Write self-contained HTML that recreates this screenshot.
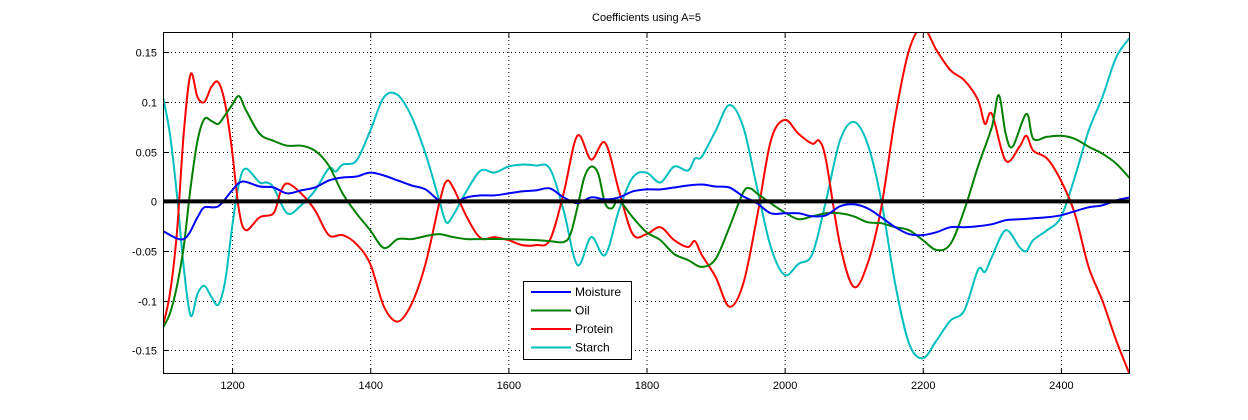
<!DOCTYPE html>
<html><head><meta charset="utf-8"><style>
body{margin:0;background:#fff;}
svg{display:block;font-family:"Liberation Sans",sans-serif;}
</style></head><body>
<svg id="chart" width="1248" height="420" viewBox="0 0 1248 420" xmlns="http://www.w3.org/2000/svg"></svg>
<script>
const xTicks=[1200,1400,1600,1800,2000,2200,2400];
const yTicks=[-0.15,-0.1,-0.05,0,0.05,0.1,0.15];
const yTickLabels=["-0.15","-0.1","-0.05","0","0.05","0.1","0.15"];
const seriesNames=["Moisture","Oil","Protein","Starch"];
const moistureX=[1100,1130,1150,1160,1180,1200,1215,1240,1260,1280,1300,1320,1340,1360,1380,1400,1420,1440,1460,1480,1500,1520,1540,1560,1580,1600,1620,1640,1660,1680,1700,1720,1740,1760,1780,1800,1820,1840,1860,1880,1900,1920,1940,1960,1980,2000,2020,2040,2060,2080,2100,2120,2140,2160,2180,2200,2220,2240,2260,2280,2300,2320,2340,2360,2380,2400,2420,2440,2460,2480,2500];
const moistureY=[-0.030,-0.038,-0.016,-0.006,-0.005,0.011,0.020,0.015,0.014,0.008,0.011,0.014,0.021,0.024,0.025,0.029,0.026,0.021,0.016,0.012,0.001,-0.001,0.004,0.006,0.006,0.008,0.010,0.011,0.013,0.004,-0.002,0.004,0.002,0.004,0.010,0.012,0.012,0.014,0.016,0.017,0.015,0.014,0.005,-0.002,-0.012,-0.012,-0.012,-0.015,-0.014,-0.005,-0.003,-0.007,-0.016,-0.026,-0.033,-0.034,-0.031,-0.026,-0.026,-0.025,-0.023,-0.019,-0.018,-0.017,-0.016,-0.014,-0.010,-0.006,-0.004,0.001,0.004];
const oilX=[1100,1110,1120,1130,1140,1150,1160,1170,1180,1190,1200,1210,1220,1240,1260,1280,1300,1320,1340,1360,1380,1400,1420,1440,1460,1480,1500,1520,1540,1560,1600,1640,1660,1680,1690,1700,1710,1720,1730,1740,1750,1760,1780,1800,1820,1840,1860,1880,1900,1920,1940,1950,1960,1980,2000,2020,2040,2060,2080,2100,2120,2140,2160,2180,2200,2220,2240,2260,2280,2300,2310,2320,2330,2350,2360,2380,2400,2420,2440,2460,2480,2500];
const oilY=[-0.127,-0.113,-0.086,-0.046,0.014,0.061,0.083,0.081,0.078,0.087,0.097,0.106,0.092,0.068,0.061,0.056,0.056,0.051,0.036,0.008,-0.012,-0.029,-0.047,-0.038,-0.038,-0.035,-0.033,-0.036,-0.038,-0.038,-0.038,-0.039,-0.040,-0.041,-0.033,-0.006,0.024,0.035,0.028,-0.002,-0.007,0.001,-0.016,-0.031,-0.039,-0.053,-0.059,-0.066,-0.058,-0.026,0.009,0.013,0.008,-0.002,-0.011,-0.018,-0.015,-0.012,-0.012,-0.015,-0.021,-0.022,-0.026,-0.029,-0.039,-0.049,-0.043,-0.009,0.035,0.075,0.107,0.068,0.055,0.088,0.063,0.065,0.066,0.063,0.055,0.048,0.038,0.023];
const proteinX=[1100,1110,1120,1130,1140,1150,1160,1170,1180,1190,1200,1210,1220,1240,1260,1270,1280,1300,1320,1340,1360,1380,1400,1420,1440,1460,1480,1500,1510,1520,1540,1560,1580,1600,1620,1640,1660,1680,1700,1720,1740,1760,1780,1800,1820,1840,1860,1870,1880,1900,1920,1940,1960,1980,2000,2020,2040,2050,2060,2080,2100,2120,2140,2160,2180,2200,2220,2240,2260,2280,2290,2300,2320,2340,2350,2360,2380,2400,2420,2440,2460,2480,2500];
const proteinY=[-0.125,-0.093,-0.033,0.068,0.128,0.105,0.100,0.115,0.120,0.098,0.051,-0.009,-0.029,-0.016,-0.012,0.009,0.018,0.008,-0.009,-0.034,-0.034,-0.043,-0.063,-0.106,-0.121,-0.103,-0.063,-0.002,0.020,0.014,-0.016,-0.037,-0.036,-0.039,-0.044,-0.044,-0.039,0.008,0.066,0.042,0.059,0.011,-0.033,-0.033,-0.026,-0.039,-0.046,-0.040,-0.054,-0.076,-0.106,-0.083,-0.016,0.061,0.082,0.068,0.058,0.061,0.041,-0.043,-0.086,-0.063,-0.006,0.085,0.152,0.175,0.152,0.132,0.122,0.102,0.078,0.088,0.041,0.055,0.066,0.051,0.043,0.021,-0.012,-0.066,-0.100,-0.140,-0.175];
const starchX=[1100,1110,1120,1130,1140,1150,1160,1170,1180,1190,1200,1210,1220,1240,1250,1260,1280,1300,1320,1340,1350,1360,1380,1400,1420,1440,1460,1480,1500,1510,1520,1540,1560,1580,1600,1620,1640,1660,1680,1700,1720,1740,1760,1780,1800,1820,1840,1860,1870,1880,1900,1920,1940,1960,1980,2000,2020,2040,2060,2080,2100,2120,2140,2160,2180,2200,2220,2240,2260,2280,2290,2300,2320,2340,2350,2360,2380,2400,2420,2440,2460,2480,2500];
const starchY=[0.105,0.068,0.008,-0.066,-0.115,-0.093,-0.085,-0.096,-0.104,-0.080,-0.026,0.018,0.033,0.019,0.019,0.014,-0.012,-0.004,0.011,0.033,0.030,0.037,0.041,0.071,0.105,0.107,0.085,0.048,0.001,-0.021,-0.014,0.011,0.031,0.029,0.035,0.037,0.036,0.033,-0.009,-0.064,-0.036,-0.054,-0.009,0.024,0.029,0.019,0.035,0.031,0.043,0.045,0.071,0.097,0.075,0.014,-0.046,-0.074,-0.063,-0.053,0.001,0.061,0.080,0.058,0.001,-0.083,-0.143,-0.158,-0.140,-0.120,-0.110,-0.069,-0.071,-0.056,-0.029,-0.046,-0.050,-0.039,-0.029,-0.016,0.024,0.071,0.105,0.145,0.165];
const zeroX=[1100,2500];
const zeroY=[0,0];

const L=163,R=1130,T=32,B=374;
const X0=1100,X1=2500,Y0=-0.1738,Y1=0.1705;
const sx=v=>L+(v-X0)/(X1-X0)*(R-L);
const sy=v=>B-(v-Y0)/(Y1-Y0)*(B-T);
const NS="http://www.w3.org/2000/svg";
const svg=document.getElementById('chart');
function mk(tag,attrs,parent){const e=document.createElementNS(NS,tag);for(const k in attrs)e.setAttribute(k,attrs[k]);(parent||svg).appendChild(e);return e;}

const defs=mk('defs',{});
const cp=mk('clipPath',{id:'clip'},defs);
mk('rect',{x:L,y:T,width:R-L,height:B-T},cp);

const bg=mk('rect',{x:L,y:T,width:R-L,height:B-T,fill:'#fff'});



const title=mk('text',{x:(L+R)/2,y:21,'text-anchor':'middle','font-size':'11',fill:'#000'});


title.textContent='Coefficients using A=5';

const grid=mk('g',{stroke:'#000','stroke-width':'1','stroke-dasharray':'1,3'});


xTicks.forEach(v=>{mk('line',{x1:sx(v)+0.5,x2:sx(v)+0.5,y1:T,y2:B},grid);});
yTicks.forEach(v=>{mk('line',{x1:L,x2:R,y1:Math.round(sy(v))+0.5,y2:Math.round(sy(v))+0.5},grid);});

const xAxis=mk('g',{'font-size':'11',fill:'#000','text-anchor':'middle'});


xTicks.forEach(v=>{
  const x=sx(v)+0.5;
  mk('line',{x1:x,x2:x,y1:B,y2:B-6,stroke:'#000'},xAxis);
  mk('line',{x1:x,x2:x,y1:T,y2:T+6,stroke:'#000'},xAxis);
  const t=mk('text',{x:x,y:B+15},xAxis);
  
  
  t.textContent=v;
});
const yAxis=mk('g',{'font-size':'11',fill:'#000','text-anchor':'end'});


yTicks.forEach((v,i)=>{
  const y=Math.round(sy(v))+0.5;
  mk('line',{x1:L,x2:L+6,y1:y,y2:y,stroke:'#000'},yAxis);
  mk('line',{x1:R,x2:R-6,y1:y,y2:y,stroke:'#000'},yAxis);
  const t=mk('text',{x:L-6,y:y+4},yAxis);
  
  
  t.textContent=yTickLabels[i];
});

const lines=mk('g',{'clip-path':'url(#clip)',fill:'none','stroke-linejoin':'round'});


function path(xs,ys){
  const P=xs.map((x,i)=>[sx(x),sy(ys[i])]);
  let d='M'+P[0][0].toFixed(1)+','+P[0][1].toFixed(1);
  for(let i=0;i<P.length-1;i++){
    const p0=P[i-1]||P[i],p1=P[i],p2=P[i+1],p3=P[i+2]||P[i+1];
    const t=1/6;
    const c1=[p1[0]+(p2[0]-p0[0])*t,p1[1]+(p2[1]-p0[1])*t];
    const c2=[p2[0]-(p3[0]-p1[0])*t,p2[1]-(p3[1]-p1[1])*t];
    d+='C'+c1[0].toFixed(1)+','+c1[1].toFixed(1)+' '+c2[0].toFixed(1)+','+c2[1].toFixed(1)+' '+p2[0].toFixed(1)+','+p2[1].toFixed(1);
  }
  return d;
}
const sets=[[moistureX,moistureY,'#0000ff','moisture-line'],[oilX,oilY,'#008000','oil-line'],[proteinX,proteinY,'#ff0000','protein-line'],[starchX,starchY,'#00bfbf','starch-line']];
[3,2,1,0].forEach(i=>{
  const s=sets[i];
  const p=mk('path',{d:path(s[0],s[1]),stroke:s[2],'stroke-width':'2'},lines);
  
  
});
const zl=mk('path',{d:path(zeroX,zeroY),stroke:'#000','stroke-width':'4'},lines);



const frame=mk('rect',{x:L+0.5,y:T+0.5,width:R-L-1,height:B-T-1,fill:'none',stroke:'#000','stroke-width':'1'});



const leg=mk('g',{'font-size':'12',fill:'#000'});


mk('rect',{x:523.5,y:281.5,width:108,height:78,fill:'#fff',stroke:'#000'},leg);
seriesNames.forEach((n,i)=>{
  const y=292+i*18.5;
  const g=mk('g',{},leg);
  
  
  mk('line',{x1:531,x2:571,y1:y,y2:y,stroke:sets[i][2],'stroke-width':'2'},g);
  const t=mk('text',{x:575,y:y+4},g);
  t.textContent=n;
});
</script>
</body></html>
